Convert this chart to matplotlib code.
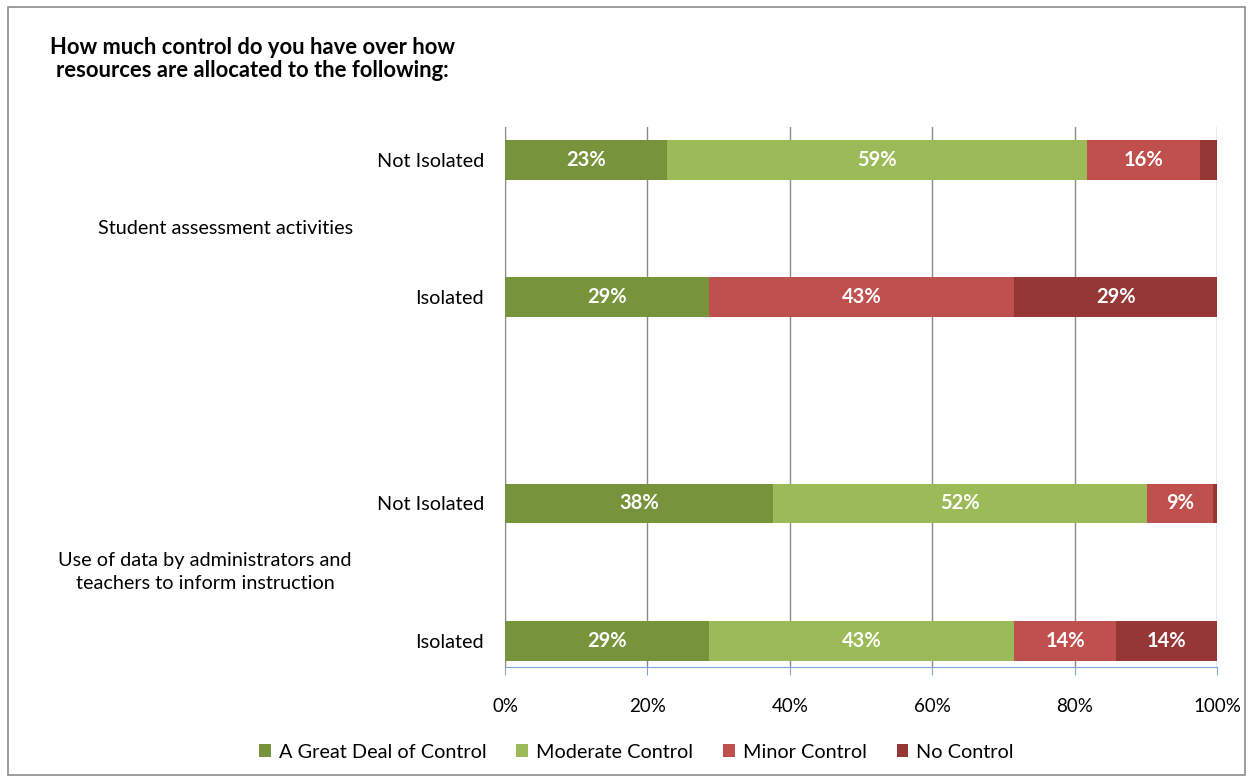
import matplotlib
matplotlib.use("Agg")
import matplotlib.pyplot as plt
from matplotlib.patches import Rectangle
import numpy as np

plt.rcParams['font.family'] = ['Lato', 'DejaVu Sans']

title = "How much control do you have over how\nresources are allocated to the following:"
bar_labels = ["Isolated", "Not Isolated", "Isolated", "Not Isolated"]  # bottom to top
groups = ["Use of data by administrators and\nteachers to inform instruction",
          "Student assessment activities"]
series = ["A Great Deal of Control", "Moderate Control", "Minor Control", "No Control"]
great = [28.6, 37.7, 28.6, 22.7]
moderate = [42.9, 52.4, 0.0, 59.1]
minor = [14.3, 9.4, 42.9, 15.8]
none_ = [14.3, 0.5, 28.6, 2.4]
colors = ["#77933C", "#9BBB59", "#C0504D", "#953735"]
xticks = [0, 20, 40, 60, 80, 100]

fig = plt.figure(figsize=(12.53, 7.82), dpi=100)
# outer frame
fig.patches.append(Rectangle((0.006, 0.009), 0.988, 0.982, transform=fig.transFigure,
                             fill=False, edgecolor="#8c8c8c", linewidth=1.2))

ax = fig.add_axes([505/1253, 1-667/782, 712/1253, 540/782])
ypos = np.array([0, 1, 2.5, 3.5])
h = 0.29
left = np.zeros(4)
for vals, col, name in zip([great, moderate, minor, none_], colors, series):
    vals = np.array(vals)
    ax.barh(ypos, vals, left=left, height=h, color=col, label=name, zorder=3)
    for y, l, v in zip(ypos, left, vals):
        if v >= 5:
            ax.text(l + v/2, y, f"{v:.0f}%", ha="center", va="center", color="white",
                    fontsize=14.5, fontweight="bold", zorder=4)
    left = left + vals

ax.set_xlim(0, 100)
ax.set_ylim(-0.19, 3.74)
ax.set_xticks(xticks)
ax.set_xticklabels([f"{t}%" for t in xticks], fontsize=13.5)
ax.tick_params(axis="x", direction="out", length=6, color="#7ea6d8", pad=16)
ax.set_yticks(ypos)
ax.set_yticklabels(bar_labels, fontsize=14.3)
ax.tick_params(axis="y", length=0, pad=15)
ax.grid(axis="x", color="#8a8a8a", linewidth=1, zorder=0)
for s in ["top", "right"]:
    ax.spines[s].set_visible(False)
ax.spines["bottom"].set_color("#7ea6d8")
ax.spines["left"].set_color("#8a8a8a")

# group labels
fig.text(205/1253, 1-572/782, groups[0], ha="center", va="center", fontsize=14.3, linespacing=1.45)
fig.text(226/1253, 1-229/782, groups[1], ha="center", va="center", fontsize=14.3)

fig.text(252/1253, 1-59/782, title, ha="center", va="center", fontsize=15.8,
         fontweight="bold", linespacing=1.1, multialignment="center")

handles, labs = ax.get_legend_handles_labels()
fig.legend(handles, labs, loc="center", bbox_to_anchor=(0.508, 1-752/782), ncol=4,
           frameon=False, fontsize=14.3, handlelength=0.6, handleheight=0.6,
           handletextpad=0.4, columnspacing=1.5)

fig.savefig("out.png", dpi=100)
